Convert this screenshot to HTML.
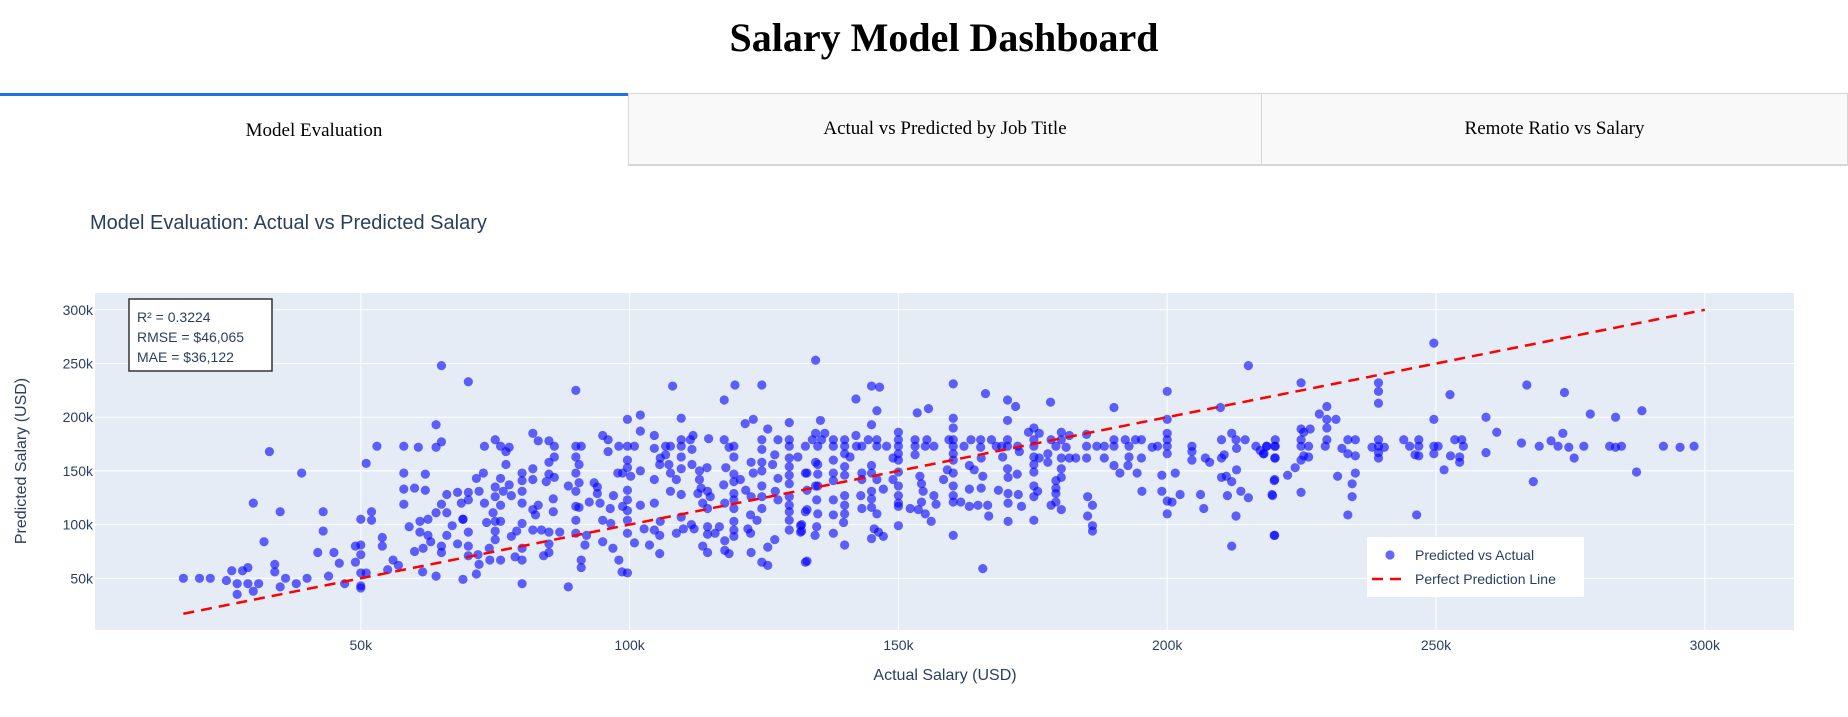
<!DOCTYPE html>
<html>
<head>
<meta charset="utf-8">
<style>
  html,body{margin:0;padding:0;background:#fff;width:1848px;height:717px;overflow:hidden}
  .title{position:absolute;left:0;width:1888px;top:14px;text-align:center;font-family:"Liberation Serif",serif;font-weight:bold;font-size:40px;color:#000}
  .tab{position:absolute;top:93px;height:73px;box-sizing:border-box;font-family:"Liberation Serif",serif;font-size:19px;color:#000;display:flex;align-items:center;justify-content:center}
  #tab1{left:0;width:628px;background:#fff;border-top:3px solid #1c75e6}
  #tab2{left:628px;width:634px;background:#f9f9f9;border:1px solid #d6d6d6;border-bottom:2px solid #d6d6d6}
  #tab3{left:1262px;width:586px;background:#f9f9f9;border:1px solid #d6d6d6;border-left:none;border-bottom:2px solid #d6d6d6}
  svg{position:absolute;left:0;top:0}
</style>
</head>
<body>
<div class="title">Salary Model Dashboard</div>
<div class="tab" id="tab1">Model Evaluation</div>
<div class="tab" id="tab2">Actual vs Predicted by Job Title</div>
<div class="tab" id="tab3">Remote Ratio vs Salary</div>
<svg id="chart" width="1848" height="717"></svg>
<script>
// Data (thousands USD): [actual, predicted]
const obs = [
[17,50],[20,50],[22,50],[25,48],[26,57],[27,45],[27,35],[28,57],[29,60],[29,45],[30,38],[30,120],[31,45],[32,84],[33,168],[34,63],[34,56],[35,42],[35,112],[36,50],[38,45],[39,148],[40,50],[42,74],[43,94],[43,112],[44,52],[45,74],[46,64],[47,45],[49,80],[49,65],[50,105],[50,72],[50,55],[50,43],[50,41],[50,81],[51,157],[51,55],[52,104],[52,112],[53,173],[54,88],[54,80],[55,58],[56,67],[57,62],
[58,173],[60.7,172],[64,172],[65,177],[64,193],[65,248],[70,233],[58,148],[58,133],[58,119],[60,134],[62,147],[62,132],[59,98],[61,103],[61,93],[62.5,105],[64,111],[65,119],[66,128],[66,111],[67,99],[68,130],[70,130],[70,123],[69,105],[70,93],[70,80],[70,71],[71.5,54],[69,49],[68,82],[65,80],[65,74],[64,52],[61.6,78],[60,75],[61.5,56],[63,84],[62.5,90],[66,90],[68.7,120],[69,105],
[71.8,72],[72,63],[73.9,78],[74,67],[73.4,102],[75,103],[75,94],[75,86],[76,67],[76,103],[74.6,111],[73,120],[72.8,148],[71.5,143],[72,131],[75,126],[76,118],[76,143],[75,135],[76.5,131],[77.6,137],[77,156],[77,168],[76,173],[75,179],[73,173],[77.6,172],
[78,127],[79,94],[78,89],[78.7,70],[80,45],[80,67],[80,78],[80,101],[80,120],[80,131],[80,141],[80,148],[82,142],[82,152],[82,185],[83,178],[85,178],[86,173],[85,158],[85,147],[86,144],[84.5,140],[86,163],[85.8,124],[85.8,112],[83,118],[82,114],[82.5,109],[82,95],[83.6,95],[85,93],[85,82],[84,71],[85,74],[87,93],[88.6,136],[88.6,42],
[90,225],[90,173],[91,173],[90,163],[90.6,156],[90,148],[90.6,139],[90,131],[90,117],[90,104],[90.6,116],[90,92],[92,90],[91.7,81],[91,67],[91,60],[92.5,121],[93.4,139],[94,135],[94,129],[95,183],[96,179],[96,168],[94.5,120],[96.4,115],[95,104],[95,84],[96.9,78],[98,67],[98.6,56],[99.6,55],[96.5,101],[97,127],[97.8,148],[98,173],[99.6,198],[102,202],[102,187],[99.6,173],[100.9,173],[99.6,160],[99.6,153],[98.7,148],[100.2,145],[99.6,132],[99.6,123],[99.6,113],[99.6,104],[99.6,92],[98.7,117],[100.9,83],[102,118],[102,150],[102.7,96],[103.7,81],[104.6,95],[105.6,90],[105.6,73],[105.7,103],[104.6,120],[104.6,142],[104.6,171],[104.6,183],[105.6,156],[105.7,162],[106.7,173],[107.6,173],[106.7,165],[107.3,156],[108,229],[109.6,199],[109.6,179],[109.6,173],[109.6,163],[109.6,152],[108.7,142],[107.6,148],[107.6,131],[109.6,128],[109.6,107],[108.7,92],[110,96],[111.5,100],[112,96],[111.3,179],[111.8,183],[111.6,170],[111.6,156],[113,150],[113,142],[113.3,134],[112.7,129],[113.6,120],[114.5,115],[114.5,131],[115,126],[114.4,153],[114.7,180],[114.5,98],[114.5,91],[113.6,80],[114.5,74],[115.9,92],[116.7,98],[117.6,216],[119.6,230],[117.6,179],[118.5,172],[119.4,173],[119.4,163],[117.9,153],[119.4,147],[119.4,140],[117.5,137],[119.4,129],[119.4,123],[119.4,115],[117.7,120],[119.4,103],[119.4,95],[119.4,89],[117.7,85],[118.5,73],[117.7,76],[120.6,142],[121.6,132],[121.5,194],[123,198],[122.6,158],[123,148],[122.6,126],[122.5,109],[122,96],[122.5,92],[122.6,74],[124.6,230],[124.6,179],[124.6,170],[124.6,158],[124.6,150],[124.6,136],[124.6,126],[124.6,115],[123.7,104],[125.7,189],[125.7,79],[124.6,65],[125.7,62],[127,165],[126.6,156],[127.6,179],[127.6,143],[127.1,131],[127.6,123],[127,86],[129.7,195],[129.7,179],[129.7,173],[129.7,162],[129.7,154],[129.7,146],[129.7,138],[129.7,126],[129.7,118],[129.7,112],[129.7,104],[129.7,95],[131.8,99],[131.8,93],[132.7,65],[132.7,148],[132.7,112],[132.7,173],[131.3,163],[134,179],[134.6,253],[134.6,136],[134.6,158],
[135.5,197],[134.6,185],[136.3,185],[135.7,179],[135,173],[137.9,179],[137.9,173],[140,179],[140,173],[140,166],[141,163],[140,154],[140,146],[140,127],[140,118],[140,110],[139.8,102],[140,81],[137.9,160],[137.9,148],[137.9,141],[137.9,123],[137.9,109],[137.9,92],[135,156],[135,147],[135,136],[134.8,123],[135,110],[134.8,98],[134.5,90],[133,114],[133,132],[133,148],[133,66],[132,100],[132,94],[142.1,217],[142.1,183],[142.2,173],[143.2,173],[143.2,148],[143.2,142],[143.2,115],[143,127],[145,229],[146.5,228],[146,206],[145,193],[144.4,179],[146,179],[146,173],[147.8,173],[145,155],[145,148],[146,142],[145,131],[147.2,133],[145,124],[145,116],[146,110],[145.5,96],[146.3,93],[145,87],[147.2,89],[150,186],[150,179],[150,173],[150,166],[150,160],[150,149],[149,142],[150,136],[150,127],[150,120],[150,117],[150,99],[149,162],[152.2,115],[153.1,179],[153.1,173],[153.1,165],[153.5,204],[155.6,208],[155.3,179],[155,173],[156.6,173],[154,145],[154.3,138],[154.6,131],[154.3,121],[153.7,114],[155,110],[156.1,103],[156.6,127],[157,119],[158.4,142],[159.1,151],[160.2,231],[160.2,199],[160.2,190],[159.4,179],[160.2,179],[160.2,173],[160.2,166],[160.2,160],[160.2,148],[160.2,136],[160.2,127],[160.2,121],[160.2,90],[161.6,121],[162.2,173],[163.5,179],[163.2,155],[163.2,133],[163.2,117],[164.1,151],[164.8,118],[165.3,179],[165.3,172],[165.4,162],[165.7,145],[165.7,59],[165.4,134],[166.2,222],[166.6,118],[166.8,108],[167.3,179],[168.2,173],[169.2,173],[169.4,163],[170.3,216],[170.3,197],[170.3,179],[170.3,173],[170.3,152],[170.4,144],[170.4,129],[170.4,120],[170.4,103],[168.6,132],[171.8,210],[172.1,147],[172.2,173],[172.5,168],[172.3,128],[172.9,117],[174.2,186],[175.2,190],[175.2,179],[175.2,173],[175.2,163],[175.2,156],[175.2,149],[175.2,136],[175.2,126],[175.2,104],[176.2,185],[176.2,162],[175.9,131],[177.8,166],[177.8,158],[178.3,214],[178.4,179],[179.3,173],[180.3,186],[180.3,179],[180.3,162],[180.3,152],[180.3,144],[179.3,141],[179.3,134],[179.3,129],[179.3,121],[178.4,118],[180.3,114],[181.2,172],[181.8,183],[181.8,162],[183,162],[185,184],[185,173],[185,162],[185.2,126],[185.2,108],[186.1,118],[186.1,99],[186.1,94],[186.9,173],[188.3,173],[188.3,162],[190.1,209],[190.1,179],[190.1,173],[190.1,155],[191.2,148],[192.2,179],[192.9,173],[192.9,163],[192.7,155],[194.1,179],[195.2,179],[195.2,162],[194.4,148],[195.3,131],[197.2,172],[198.2,173],[199,146],[199,131],[200,224],[200,198],[200,185],[200,179],[200,173],[200,166],[200,122],[200,110],[200.9,121],[201.5,148],[202.4,128],[204.6,173],[204.6,168],[204.6,160],[206.2,128],[206.8,115],[207.1,162],[207.9,158],[209.9,209],[210.1,179],[210.1,162],[210.1,144],[210.6,165],[211,145],[211.2,127],[212,185],[212,140],[212,80],[212.8,179],[212.9,171],[212.9,151],[212.8,108],[213.7,131],[214.5,179],[215.1,248],[215.1,125],[216.5,173],[217.3,169],[218,166],[218.5,173],[219.6,127],[220,173],[220,162],[220,142],[220,90],
[224.9,232],[229.7,210],[228.3,203],[229.7,198],[231.4,198],[229.7,190],[224.9,189],[226.6,189],[225.4,186],[220.1,179],[220.1,173],[218.5,173],[217.9,166],[220.1,162],[224.9,179],[224.9,173],[226.3,173],[225.4,164],[226.3,163],[224.9,160],[223.8,153],[222.4,146],[219.9,141],[219.5,128],[224.9,130],[219.9,90],[229.4,173],[229.7,179],[232.5,171],[233.6,179],[233.6,166],[235,179],[235,164],[235,148],[234.4,138],[234.4,126],[233.6,109],[231.7,145],[238.1,172],[239.3,232],[239.3,224],[239.3,213],[239.3,179],[239.3,173],[239.3,167],[239.3,162],[240.4,172],[244,179],[245.1,173],[246.8,179],[246.8,173],[246.1,165],[246.8,164],[246.4,109],[249.6,269],[249.6,198],[249.6,173],[250.4,173],[249.6,166],[251.5,151],[252.6,221],[252.7,164],[253.5,179],[254.8,179],[255.1,173],[254.4,163],[254.4,158],[259.3,200],[259.3,167],[261.3,186],[265.9,176],[266.9,230],[268.1,140],[269.2,173],[271.4,178],[272.7,173],[273.6,185],[273.9,223],[274.7,172],[275.7,162],[277.5,173],[278.7,203],[282.3,173],[283.4,200],[283.4,172],[284.5,173],[287.3,149],[288.3,206],[292.3,173],[295.4,172],[298,173]
];
const lineX = [17, 300];
const xTicks = [50,100,150,200,250,300];
const yTicks = [50,100,150,200,250,300];
const xTickLabels = ["50k","100k","150k","200k","250k","300k"];
const yTickLabels = ["50k","100k","150k","200k","250k","300k"];
const metrics = ["R² = 0.3224","RMSE = $46,065","MAE = $36,122"];

const NS="http://www.w3.org/2000/svg";
const svg=document.getElementById('chart');
const PL=95, PR=1794, PT=293, PB=630;
const X0=92, XS=5.376, Y0=632, YS=1.074;
function sx(v){return X0+v*XS;}
function sy(v){return Y0-v*YS;}
function mk(tag,attrs,parent){const e=document.createElementNS(NS,tag);for(const k in attrs)e.setAttribute(k,attrs[k]);(parent||svg).appendChild(e);return e;}

const bg=mk('rect',{x:PL,y:PT,width:PR-PL,height:PB-PT,fill:'#e5ecf6'});



xTicks.forEach((t,i)=>{
  const g=mk('line',{x1:sx(t),x2:sx(t),y1:PT,y2:PB,stroke:'#fff','stroke-width':1});
  
  
  const l=mk('text',{x:sx(t),y:PB+20,'text-anchor':'middle','font-family':'Liberation Sans, sans-serif','font-size':14,fill:'#2a3f5f'});
  l.textContent=xTickLabels[i];
  
  
});
yTicks.forEach((t,i)=>{
  const g=mk('line',{x1:PL,x2:PR,y1:sy(t),y2:sy(t),stroke:'#fff','stroke-width':1});
  
  
  const l=mk('text',{x:PL-2,y:sy(t)+5,'text-anchor':'end','font-family':'Liberation Sans, sans-serif','font-size':14,fill:'#2a3f5f'});
  l.textContent=yTickLabels[i];
  
  
});

const pts=mk('g',{});


obs.forEach(p=>{
  const c=mk('circle',{cx:sx(p[0]),cy:sy(p[1]),r:4.6,fill:'#0000ff','fill-opacity':0.6},pts);
  
  
});

const ln=mk('line',{x1:sx(lineX[0]),y1:sy(lineX[0]),x2:sx(lineX[1]),y2:sy(lineX[1]),stroke:'#ff0000','stroke-width':2.5,'stroke-dasharray':'11,7'});



// annotation box
const ab=mk('rect',{x:129,y:299,width:143,height:72,fill:'#fff',stroke:'#333','stroke-width':1.5});


metrics.forEach((m,i)=>{
  const t=mk('text',{x:137,y:322+i*20,'font-family':'Liberation Sans, sans-serif','font-size':14,fill:'#2a3f5f'});
  t.textContent=m;
  
  
});

// legend
const lg=mk('rect',{x:1367,y:537,width:217,height:60,fill:'#fff'});


const lc=mk('circle',{cx:1390,cy:555,r:4.6,fill:'#0000ff','fill-opacity':0.6});


const lt1=mk('text',{x:1415,y:560,'font-family':'Liberation Sans, sans-serif','font-size':14,fill:'#2a3f5f'});
lt1.textContent='Predicted vs Actual';


const ll=mk('line',{x1:1372,x2:1405,y1:579,y2:579,stroke:'#ff0000','stroke-width':2.5,'stroke-dasharray':'11,7'});


const lt2=mk('text',{x:1415,y:584,'font-family':'Liberation Sans, sans-serif','font-size':14,fill:'#2a3f5f'});
lt2.textContent='Perfect Prediction Line';



// titles
const ct=mk('text',{x:90,y:229,'font-family':'Liberation Sans, sans-serif','font-size':20,fill:'#2a3f5f'});
ct.textContent='Model Evaluation: Actual vs Predicted Salary';


const xt=mk('text',{x:945,y:680,'text-anchor':'middle','font-family':'Liberation Sans, sans-serif','font-size':16,fill:'#2a3f5f'});
xt.textContent='Actual Salary (USD)';


const yt=mk('text',{x:0,y:0,'text-anchor':'middle','font-family':'Liberation Sans, sans-serif','font-size':16,fill:'#2a3f5f',transform:'translate(26,461) rotate(-90)'});
yt.textContent='Predicted Salary (USD)';


</script>
</body>
</html>
